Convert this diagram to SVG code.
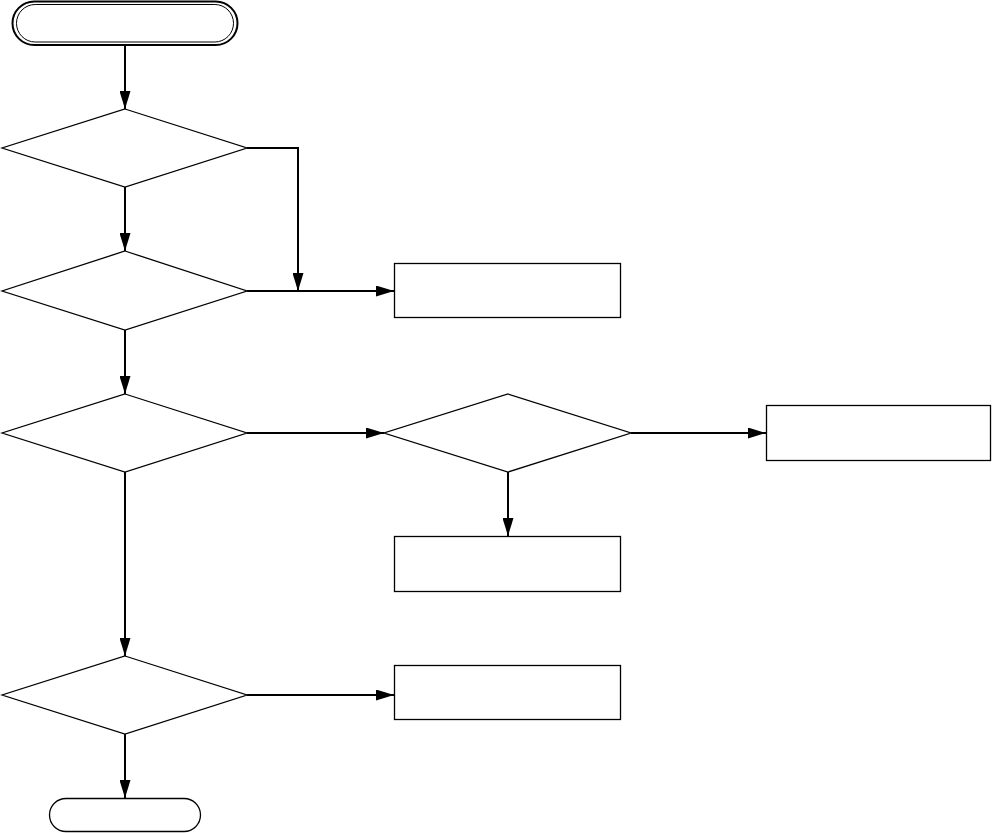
<svg xmlns="http://www.w3.org/2000/svg" width="992" height="833" viewBox="0 0 992 833">
<defs>
<marker id="arr" viewBox="0 0 18 11" refX="18" refY="5.5" markerWidth="18" markerHeight="11" markerUnits="userSpaceOnUse" orient="auto">
<path d="M0,0 L18,5.5 L0,11 Z" fill="#000"/>
</marker>
</defs>
<style>
.shape{fill:#fff;stroke:#000;stroke-width:1.3}
.edge{fill:none;stroke:#000;stroke-width:2}
.arr{marker-end:url(#arr)}
</style>
<rect width="992" height="833" fill="#fff"/>
<g id="connectors">
<path class="edge arr" d="M125,45 L125,109"/>
<path class="edge arr" d="M125,187 L125,251"/>
<path class="edge arr" d="M247,148 L298,148 L298,291"/>
<path class="edge arr" d="M247,291 L394,291"/>
<path class="edge arr" d="M125,330 L125,394"/>
<path class="edge arr" d="M247,433 L384,433"/>
<path class="edge arr" d="M631,433 L766,433"/>
<path class="edge arr" d="M508,472 L508,536"/>
<path class="edge arr" d="M125,472 L125,656"/>
<path class="edge arr" d="M247,695 L394,695"/>
<path class="edge arr" d="M125,734 L125,798"/>
</g>
<g id="start">
<rect x="12.5" y="1.5" width="225" height="43.5" rx="21.7" class="shape" style="stroke-width:2"/>
<rect x="16.5" y="4.5" width="217" height="37.5" rx="18.7" fill="none" stroke="#000" stroke-width="1"/>
</g>
<g id="d1"><polygon class="shape" points="125,109 247,148 125,187 2,148"/></g>
<g id="d2"><polygon class="shape" points="125,251 247,291 125,330 2,291"/></g>
<g id="d3"><polygon class="shape" points="125,394 247,433 125,472 2,433"/></g>
<g id="d4"><polygon class="shape" points="125,656 247,695 125,734 2,695"/></g>
<g id="d5"><polygon class="shape" points="508,394 631,433 508,472 384,433"/></g>
<g id="rA"><rect class="shape" x="394.5" y="263.5" width="226" height="54"/></g>
<g id="rB"><rect class="shape" x="766.5" y="405.5" width="224" height="55"/></g>
<g id="rC"><rect class="shape" x="394.5" y="536.5" width="226" height="55"/></g>
<g id="rD"><rect class="shape" x="394.5" y="665.5" width="226" height="54"/></g>
<g id="end"><rect class="shape" x="49.5" y="798.5" width="151" height="33" rx="16.5"/></g>
</svg>
